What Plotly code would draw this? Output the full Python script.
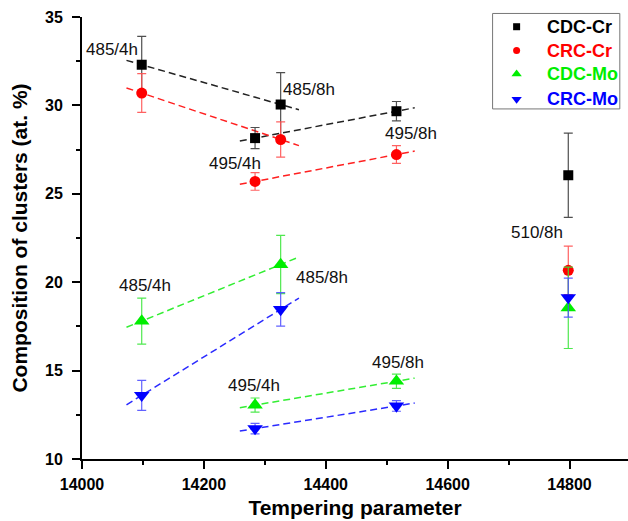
import plotly.graph_objects as go

# Tempering parameter for each heat treatment (temperature / time)
tempering = [14098, 14284, 14326, 14516, 14798]
treatments = ["485/4h", "495/4h", "485/8h", "495/8h", "510/8h"]

# Cluster composition (at. %) and error bars
cdc_cr = [32.3, 28.15, 30.05, 29.67, 26.05]
cdc_cr_err = [1.6, 0.6, 1.8, 0.55, 2.38]
crc_cr = [30.7, 25.7, 28.07, 27.22, 20.67]
crc_cr_err = [1.1, 0.5, 1.0, 0.5, 1.37]
cdc_mo = [17.8, 13.05, 21.0, 14.4, 18.55]
cdc_mo_err = [1.3, 0.4, 1.65, 0.4, 2.3]
crc_mo = [13.6, 11.72, 18.46, 13.0, 19.13]
crc_mo_err = [0.85, 0.3, 0.95, 0.3, 1.1]

series = [
    ("CDC-Cr", cdc_cr, cdc_cr_err, "square", 10, "#000000", "#222222", "rgba(60,60,60,0.9)"),
    ("CRC-Cr", crc_cr, crc_cr_err, "circle", 11, "#ff0000", "#ff2020", "rgba(255,80,80,0.9)"),
    ("CDC-Mo", cdc_mo, cdc_mo_err, "triangle-up", 13.5, "#00ee00", "#33ee33", "rgba(60,230,60,0.9)"),
    ("CRC-Mo", crc_mo, crc_mo_err, "triangle-down", 13.5, "#0000ff", "#2a2aff", "rgba(80,80,255,0.9)"),
]

# Same-temperature pairs joined by a dashed trend line (485 °C and 495 °C)
pairs = [(0, 2), (1, 3)]
ext_left, ext_right = 25, 30

fig = go.Figure()

for name, vals, errs, sym, size, col, dash_col, err_col in series:
    for i, j in pairs:
        x0, x1 = tempering[i], tempering[j]
        slope = (vals[j] - vals[i]) / (x1 - x0)
        fig.add_trace(go.Scatter(
            x=[x0 - ext_left, x1 + ext_right],
            y=[vals[i] - slope * ext_left, vals[j] + slope * ext_right],
            mode="lines",
            line=dict(color=dash_col, width=1.5, dash="7px,4px"),
            showlegend=False, hoverinfo="skip",
        ))

for name, vals, errs, sym, size, col, dash_col, err_col in series:
    fig.add_trace(go.Scatter(
        x=tempering, y=vals, mode="markers", name=name,
        marker=dict(symbol=sym, size=size, color=col, line=dict(width=0)),
        error_y=dict(type="data", array=errs, visible=True,
                     color=err_col, thickness=1.2, width=4.5),
        showlegend=False,
    ))

# Heat-treatment labels
label_pos = [
    ("485/4h", 14049, 33.15), ("485/8h", 14372, 30.89),
    ("495/4h", 14251, 26.71), ("495/8h", 14540, 28.39),
    ("510/8h", 14747, 22.83),
    ("485/4h", 14103, 19.84), ("485/8h", 14394, 20.25),
    ("495/4h", 14282, 14.17), ("495/8h", 14519, 15.45),
]
for text, x, y in label_pos:
    fig.add_annotation(x=x, y=y, text=text, showarrow=False,
                       xanchor="center", yanchor="middle",
                       font=dict(size=17, color="#111111"))

# Boxed legend in plot-area fractions, drawn on an overlay axis pair
leg_x0, leg_x1, leg_y0, leg_y1 = 0.752, 0.985, 0.792, 1.008
leg_sym_x, leg_text_x = 0.796, 0.848
leg_rows = [0.978, 0.924, 0.871, 0.814]
fig.add_shape(type="rect", xref="paper", yref="paper",
              x0=leg_x0, x1=leg_x1, y0=leg_y0, y1=leg_y1,
              line=dict(color="#777777", width=1), fillcolor="white", layer="below")
for (name, vals, errs, sym, size, col, dash_col, err_col), ry in zip(series, leg_rows):
    fig.add_trace(go.Scatter(
        x=[leg_sym_x], y=[ry], xaxis="x2", yaxis="y2", mode="markers",
        marker=dict(symbol=sym, size=9 if "triangle" in sym else 7, color=col, line=dict(width=0)),
        showlegend=False, hoverinfo="skip", cliponaxis=False,
    ))
    fig.add_annotation(xref="paper", yref="paper", x=leg_text_x, y=ry, text=f"<b>{name}</b>",
                       showarrow=False, xanchor="left", yanchor="middle",
                       font=dict(size=18, color=col))

tick_font = dict(size=16, family="Arial, Liberation Sans, sans-serif", weight="bold")

fig.update_layout(
    width=628, height=521,
    margin=dict(l=82, r=0, t=17, b=62),
    paper_bgcolor="white", plot_bgcolor="white",
    font=dict(family="Arial, Liberation Sans, sans-serif", color="black"),
    showlegend=False,
    xaxis=dict(
        range=[14000, 14896], showgrid=False, zeroline=False,
        showline=True, linecolor="black", linewidth=2,
        ticks="outside", ticklen=8, tickwidth=1.6, tickcolor="black",
        dtick=200, tick0=14000, tickformat="d", ticklabelstandoff=2,
        tickfont=tick_font,
        minor=dict(ticks="outside", ticklen=4, tickwidth=1.6, tickcolor="black", dtick=100, showgrid=False),
        title=dict(text="<b>Tempering parameter</b>", font=dict(size=21), standoff=8),
    ),
    yaxis=dict(
        range=[10, 35], showgrid=False, zeroline=False,
        showline=True, linecolor="black", linewidth=2,
        ticks="outside", ticklen=8, tickwidth=1.6, tickcolor="black",
        dtick=5, tick0=10, ticklabelstandoff=6,
        tickfont=tick_font,
        minor=dict(ticks="outside", ticklen=4, tickwidth=1.6, tickcolor="black", dtick=2.5, showgrid=False),
        title=dict(text="<b>Composition of clusters (at. %)</b>", font=dict(size=21), standoff=12),
    ),
    xaxis2=dict(range=[0, 1], overlaying="x", visible=False, fixedrange=True),
    yaxis2=dict(range=[0, 1], overlaying="y", visible=False, fixedrange=True),
)

fig.write_html("out.html")
